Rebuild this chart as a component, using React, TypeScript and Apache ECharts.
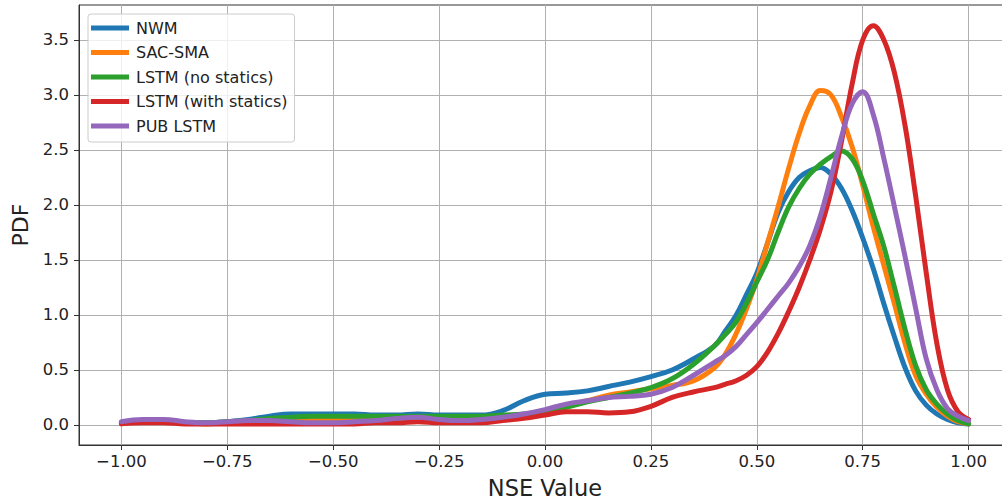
import React, { useEffect, useRef } from "react";
import * as echarts from "echarts";

const nseValues = [
  -1.0, -0.95, -0.9, -0.85, -0.8, -0.75, -0.7, -0.65, -0.6, -0.55, -0.5, -0.45, -0.4, -0.35,
  -0.3, -0.25, -0.2, -0.15, -0.1, -0.05, 0.0, 0.05, 0.1, 0.15, 0.2, 0.25, 0.3, 0.35, 0.4,
  0.425, 0.45, 0.475, 0.5, 0.525, 0.55, 0.575, 0.6, 0.625, 0.65, 0.675, 0.7, 0.725, 0.75,
  0.775, 0.8, 0.825, 0.85, 0.875, 0.9, 0.925, 0.95, 0.975, 1.0,
];

const nwm = [
  0.02, 0.03, 0.03, 0.02, 0.02, 0.03, 0.05, 0.08, 0.1, 0.1, 0.1, 0.1, 0.09, 0.09,
  0.1, 0.09, 0.09, 0.09, 0.13, 0.22, 0.28, 0.29, 0.31, 0.35, 0.39, 0.44, 0.5, 0.6, 0.72,
  0.85, 0.99, 1.18, 1.38, 1.65, 1.93, 2.12, 2.25, 2.31, 2.34, 2.28, 2.15, 1.95, 1.7,
  1.42, 1.1, 0.8, 0.52, 0.31, 0.18, 0.1, 0.05, 0.02, 0.01,
];

const sacSma = [
  0.02, 0.03, 0.03, 0.02, 0.01, 0.02, 0.03, 0.04, 0.04, 0.04, 0.04, 0.04, 0.04, 0.05,
  0.06, 0.05, 0.05, 0.05, 0.06, 0.09, 0.12, 0.17, 0.22, 0.27, 0.3, 0.33, 0.36, 0.4, 0.52,
  0.64, 0.82, 1.05, 1.32, 1.65, 1.98, 2.33, 2.65, 2.9, 3.04, 3.0, 2.8, 2.53, 2.18,
  1.8, 1.45, 1.1, 0.74, 0.45, 0.28, 0.16, 0.08, 0.03, 0.01,
];

const lstmNoStatics = [
  0.02, 0.03, 0.03, 0.02, 0.02, 0.03, 0.04, 0.06, 0.07, 0.08, 0.08, 0.08, 0.08, 0.08,
  0.08, 0.08, 0.08, 0.08, 0.09, 0.1, 0.12, 0.16, 0.21, 0.25, 0.29, 0.34, 0.42, 0.55, 0.72,
  0.82, 0.93, 1.1, 1.3, 1.5, 1.75, 1.98, 2.15, 2.28, 2.37, 2.44, 2.49, 2.42, 2.22,
  1.92, 1.62, 1.25, 0.87, 0.54, 0.32, 0.19, 0.1, 0.04, 0.01,
];

const lstmWithStatics = [
  0.01, 0.02, 0.02, 0.01, 0.01, 0.01, 0.01, 0.01, 0.01, 0.01, 0.01, 0.01, 0.02, 0.02,
  0.03, 0.02, 0.02, 0.02, 0.04, 0.06, 0.09, 0.12, 0.12, 0.11, 0.12, 0.17, 0.25, 0.3, 0.34,
  0.37, 0.4, 0.45, 0.53, 0.66, 0.83, 1.03, 1.25, 1.5, 1.78, 2.12, 2.58, 3.1, 3.5,
  3.63, 3.5, 3.2, 2.72, 2.08, 1.38, 0.74, 0.32, 0.12, 0.05,
];

const pubLstm = [
  0.03, 0.05, 0.05, 0.03, 0.02, 0.03, 0.04, 0.04, 0.03, 0.02, 0.02, 0.03, 0.04, 0.06,
  0.07, 0.05, 0.04, 0.05, 0.07, 0.1, 0.14, 0.19, 0.22, 0.25, 0.26, 0.28, 0.34, 0.45, 0.57,
  0.63, 0.71, 0.82, 0.93, 1.05, 1.17, 1.29, 1.44, 1.63, 1.9, 2.25, 2.62, 2.92, 3.03,
  2.82, 2.42, 1.98, 1.53, 1.06, 0.6, 0.32, 0.15, 0.08, 0.04,
];

const seriesNames = ["NWM", "SAC-SMA", "LSTM (no statics)", "LSTM (with statics)", "PUB LSTM"];
const seriesValues = [nwm, sacSma, lstmNoStatics, lstmWithStatics, pubLstm];
const colors = ["#1f77b4", "#ff7f0e", "#2ca02c", "#d62728", "#9467bd"];
const xTicks = [-1, -0.75, -0.5, -0.25, 0, 0.25, 0.5, 0.75, 1];
const yTicks = [0, 0.5, 1, 1.5, 2, 2.5, 3, 3.5];

const fmt = (v: number, d: number) => (v < 0 ? "\u2212" : "") + Math.abs(v).toFixed(d);

export default function App() {
  const ref = useRef<HTMLDivElement>(null);
  useEffect(() => {
    const chart = echarts.init(ref.current!, null, { renderer: "svg" });
    chart.setOption({
      animation: false,
      backgroundColor: "#ffffff",
      textStyle: { fontFamily: "DejaVu Sans" },
      grid: {
        left: 79,
        top: 5,
        width: 932,
        height: 440,
        show: true,
        borderColor: "#333",
        borderWidth: 1,
        backgroundColor: "transparent",
        outerBoundsMode: "none",
      },
      legend: {
        orient: "vertical",
        left: 88,
        top: 14,
        padding: [6, 7, 8, 3],
        itemGap: 8.5,
        itemWidth: 38,
        itemHeight: 5,
        icon: "rect",
        backgroundColor: "rgba(255,255,255,0.8)",
        borderColor: "#cccccc",
        borderWidth: 1,
        borderRadius: 3,
        textStyle: { fontSize: 16, color: "#222", fontFamily: "DejaVu Sans", padding: [0, 0, 0, 2] },
        data: seriesNames,
      },
      xAxis: {
        type: "value",
        min: -1.1,
        max: 1.1,
        name: "NSE Value",
        nameLocation: "middle",
        nameGap: 31,
        nameTextStyle: { fontSize: 22.5, color: "#222", fontFamily: "DejaVu Sans" },
        axisLine: { show: true, onZero: false, lineStyle: { color: "#333", width: 1 } },
        axisTick: { show: true, length: 5, customValues: xTicks, lineStyle: { color: "#333" } },
        axisLabel: {
          customValues: xTicks,
          formatter: (v: number) => fmt(v, 2),
          fontSize: 16.5,
          color: "#222",
          margin: 8,
        },
        splitLine: { show: true, lineStyle: { color: "#b0b0b0", width: 1 } },
      },
      yAxis: {
        type: "value",
        min: -0.182,
        max: 3.818,
        name: "PDF",
        nameLocation: "middle",
        nameGap: 41,
        nameRotate: 90,
        nameTextStyle: { fontSize: 22, color: "#222", fontFamily: "DejaVu Sans" },
        axisLine: { show: true, onZero: false, lineStyle: { color: "#333", width: 1 } },
        axisTick: { show: true, length: 5, customValues: yTicks, lineStyle: { color: "#333" } },
        axisLabel: {
          customValues: yTicks,
          formatter: (v: number) => fmt(v, 1),
          fontSize: 16.5,
          color: "#222",
          margin: 10,
        },
        splitLine: { show: true, lineStyle: { color: "#b0b0b0", width: 1 } },
      },
      series: seriesNames.map((name, i) => ({
        name,
        type: "line",
        data: nseValues.map((x, j) => [x, seriesValues[i][j]]),
        showSymbol: false,
        smooth: 0.4,
        lineStyle: { width: 5, color: colors[i], cap: "round", join: "round" },
        itemStyle: { color: colors[i] },
      })),
    });
    return () => chart.dispose();
  }, []);
  return (
    <div
      ref={ref}
      style={{ position: "fixed", left: 0, top: 0, width: 1002, height: 500, background: "#fff" }}
    />
  );
}
